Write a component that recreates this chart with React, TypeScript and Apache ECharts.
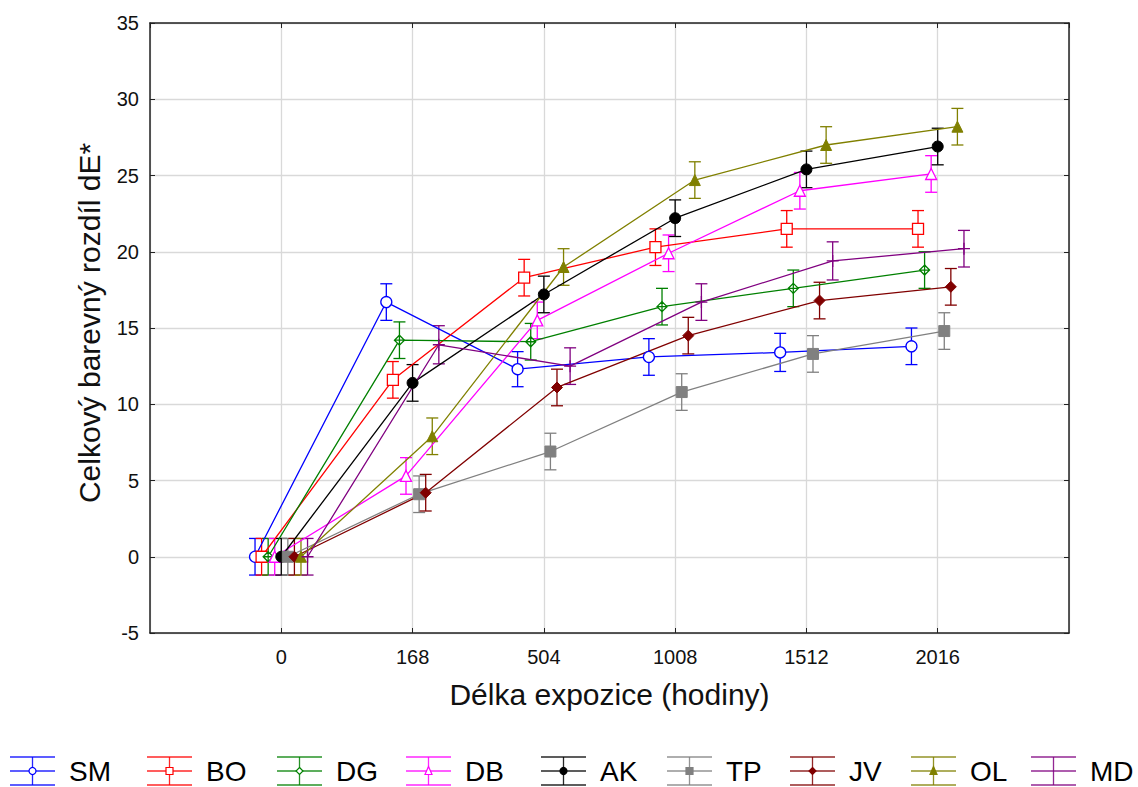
import React, { useEffect, useRef } from "react";
import * as echarts from "echarts";

const categories = ["0", "168", "504", "1008", "1512", "2016"];
const seriesNames = ["SM", "BO", "DG", "DB", "AK", "TP", "JV", "OL", "MD"];

const SM = [0, 16.7, 12.3, 13.1, 13.4, 13.8];
const BO = [0, 11.6, 18.3, 20.3, 21.5, 21.5];
const DG = [0, 14.2, 14.1, 16.4, 17.6, 18.8];
const DB = [0, 5.3, 15.5, 19.9, 24.0, 25.1];
const AK = [0, 11.4, 17.2, 22.2, 25.4, 26.9];
const TP = [0, 4.1, 6.9, 10.8, 13.3, 14.8];
const JV = [0, 4.2, 11.1, 14.5, 16.8, 17.7];
const OL = [0, 7.9, 19.0, 24.7, 27.0, 28.2];
const MD = [0, 13.9, 12.5, 16.7, 19.4, 20.2];

const SM_err = [1.2, 1.2, 1.15, 1.2, 1.25, 1.2];
const BO_err = [1.2, 1.2, 1.2, 1.2, 1.2, 1.2];
const DG_err = [1.2, 1.2, 1.2, 1.2, 1.2, 1.2];
const DB_err = [1.2, 1.2, 1.2, 1.2, 1.2, 1.2];
const AK_err = [1.2, 1.2, 1.2, 1.2, 1.2, 1.2];
const TP_err = [1.2, 1.2, 1.2, 1.2, 1.2, 1.2];
const JV_err = [1.2, 1.2, 1.2, 1.2, 1.2, 1.2];
const OL_err = [1.2, 1.2, 1.2, 1.2, 1.2, 1.2];
const MD_err = [1.2, 1.25, 1.2, 1.2, 1.25, 1.2];

const yTicks = { min: -5, max: 35, interval: 5 };

const seriesValues = [SM, BO, DG, DB, AK, TP, JV, OL, MD];
const seriesErrors = [SM_err, BO_err, DG_err, DB_err, AK_err, TP_err, JV_err, OL_err, MD_err];

const colors = ["#0000ff", "#ff0000", "#008000", "#ff00ff", "#000000", "#808080", "#800000", "#808000", "#800080"];

const DIAMOND_CROSS = "path://M0,-5L5,0L0,5L-5,0Z M-5,0L5,0 M0,-5L0,5";
const PLUS = "path://M-6,0L6,0 M0,-6L0,6";

// marker config: [symbol, size, hollow]
const markers: [string, number, boolean][] = [
  ["circle", 11, true],
  ["rect", 11, true],
  [DIAMOND_CROSS, 10, true],
  ["triangle", 11, true],
  ["circle", 11, false],
  ["rect", 11, false],
  ["diamond", 11, false],
  ["triangle", 11, false],
  [PLUS, 12, true],
];

const legendX = [10, 147, 277, 406, 541, 667, 790, 911, 1031];

const FONT = "'Liberation Sans', Arial, sans-serif";

export default function App() {
  const ref = useRef<HTMLDivElement>(null);

  useEffect(() => {
    if (!ref.current) return;
    const chart = echarts.init(ref.current, null, { renderer: "svg" });
    const step = 0.05;

    const series: any[] = [];
    seriesNames.forEach((name, i) => {
      const off = (i - 4) * step;
      const color = colors[i];
      const vals = seriesValues[i];
      const errs = seriesErrors[i];
      const [sym, size, hollow] = markers[i];
      series.push({
        type: "custom",
        name: name + " err",
        xAxisIndex: 0,
        yAxisIndex: 0,
        z: 2,
        data: vals.map((v, k) => [k + off, v - errs[k], v + errs[k]]),
        encode: { x: 0, y: [1, 2] },
        renderItem: (params: any, api: any) => {
          const x = api.value(0);
          const top = api.coord([x, api.value(2)]);
          const bot = api.coord([x, api.value(1)]);
          const hw = 6;
          const st = { stroke: color, lineWidth: 1.3 };
          return {
            type: "group",
            children: [
              { type: "line", shape: { x1: top[0], y1: top[1], x2: bot[0], y2: bot[1] }, style: st },
              { type: "line", shape: { x1: top[0] - hw, y1: top[1], x2: top[0] + hw, y2: top[1] }, style: st },
              { type: "line", shape: { x1: bot[0] - hw, y1: bot[1], x2: bot[0] + hw, y2: bot[1] }, style: st },
            ],
          };
        },
      });
      series.push({
        type: "line",
        name,
        xAxisIndex: 0,
        yAxisIndex: 0,
        z: 3,
        data: vals.map((v, k) => [k + off, v]),
        symbol: sym,
        symbolSize: size,
        showSymbol: true,
        lineStyle: { color, width: 1.3 },
        itemStyle: hollow
          ? { color: "#ffffff", borderColor: color, borderWidth: 1.3 }
          : { color, borderColor: color, borderWidth: 1 },
        emphasis: { disabled: true },
      });
    });

    const graphics: any[] = [];
    seriesNames.forEach((name, i) => {
      const color = colors[i];
      const x0 = legendX[i];
      const y0 = 757;
      const w = 45;
      const h = 28;
      const cx = x0 + w / 2;
      const cy = y0 + h / 2;
      const st = { stroke: color, lineWidth: 1.3, opacity: 0.85 };
      graphics.push({ type: "line", shape: { x1: x0, y1: y0, x2: x0 + w, y2: y0 }, style: st });
      graphics.push({ type: "line", shape: { x1: x0, y1: y0 + h, x2: x0 + w, y2: y0 + h }, style: st });
      graphics.push({ type: "line", shape: { x1: cx, y1: y0, x2: cx, y2: y0 + h }, style: st });
      graphics.push({ type: "line", shape: { x1: x0, y1: cy, x2: x0 + w, y2: cy }, style: st });
      const hollow = markers[i][2];
      const fill = hollow ? "#ffffff" : color;
      const mst = { fill, stroke: color, lineWidth: 1.2 };
      const r = 3.5;
      const sym = markers[i][0];
      if (sym === "circle") {
        graphics.push({ type: "circle", shape: { cx, cy, r }, style: mst });
      } else if (sym === "rect") {
        graphics.push({ type: "rect", shape: { x: cx - r, y: cy - r, width: 2 * r, height: 2 * r }, style: mst });
      } else if (sym === "triangle") {
        graphics.push({ type: "polygon", shape: { points: [[cx, cy - r - 1], [cx + r, cy + r], [cx - r, cy + r]] }, style: mst });
      } else if (sym === "diamond" || sym === DIAMOND_CROSS) {
        graphics.push({ type: "polygon", shape: { points: [[cx, cy - r], [cx + r, cy], [cx, cy + r], [cx - r, cy]] }, style: mst });
      }
      graphics.push({
        type: "text",
        x: x0 + 59,
        y: cy,
        style: { text: name, fill: "#000", font: `28px ${FONT}`, verticalAlign: "middle" },
      });
    });

    const axisLabelStyle = { color: "#111", fontSize: 20, fontFamily: FONT };

    chart.setOption({
      animation: false,
      backgroundColor: "#ffffff",
      grid: { left: 150, right: 69, top: 23, bottom: 154, show: false },
      xAxis: [
        {
          type: "value",
          min: -1,
          max: 6,
          interval: 1,
          position: "bottom",
          name: "Délka expozice (hodiny)",
          nameLocation: "middle",
          nameGap: 46,
          nameTextStyle: { color: "#111", fontSize: 30, fontFamily: FONT },
          axisLine: { show: true, onZero: false, lineStyle: { color: "#222", width: 1.5 } },
          axisTick: { show: true, inside: true, length: 5, lineStyle: { color: "#222" } },
          axisLabel: {
            ...axisLabelStyle,
            margin: 14,
            showMinLabel: false,
            showMaxLabel: false,
            formatter: (v: number) => (v >= 0 && v < categories.length ? categories[v] : ""),
          },
          splitLine: { show: true, lineStyle: { color: "#d9d9d9", width: 1.3 } },
        },
        {
          type: "value",
          min: -1,
          max: 6,
          interval: 1,
          position: "top",
          axisLine: { show: true, onZero: false, lineStyle: { color: "#222", width: 1.5 } },
          axisTick: { show: true, inside: true, length: 5, lineStyle: { color: "#222" } },
          axisLabel: { show: false },
          splitLine: { show: false },
        },
      ],
      yAxis: [
        {
          type: "value",
          min: yTicks.min,
          max: yTicks.max,
          interval: yTicks.interval,
          position: "left",
          name: "Celkový barevný rozdíl dE*",
          nameLocation: "middle",
          nameGap: 46,
          nameTextStyle: { color: "#111", fontSize: 30, fontFamily: FONT, padding: [0, 0, 0, 10] },
          axisLine: { show: true, onZero: false, lineStyle: { color: "#222", width: 1.5 } },
          axisTick: { show: true, inside: true, length: 5, lineStyle: { color: "#222" } },
          axisLabel: { ...axisLabelStyle, margin: 11 },
          splitLine: { show: true, lineStyle: { color: "#d9d9d9", width: 1.3 } },
        },
        {
          type: "value",
          min: yTicks.min,
          max: yTicks.max,
          interval: yTicks.interval,
          position: "right",
          axisLine: { show: true, onZero: false, lineStyle: { color: "#222", width: 1.5 } },
          axisTick: { show: true, inside: true, length: 5, lineStyle: { color: "#222" } },
          axisLabel: { show: false },
          splitLine: { show: false },
        },
      ],
      series,
      graphic: graphics,
    });

    return () => chart.dispose();
  }, []);

  return (
    <div
      ref={ref}
      style={{ position: "fixed", left: 0, top: 0, width: 1138, height: 787, background: "#fff" }}
    />
  );
}
